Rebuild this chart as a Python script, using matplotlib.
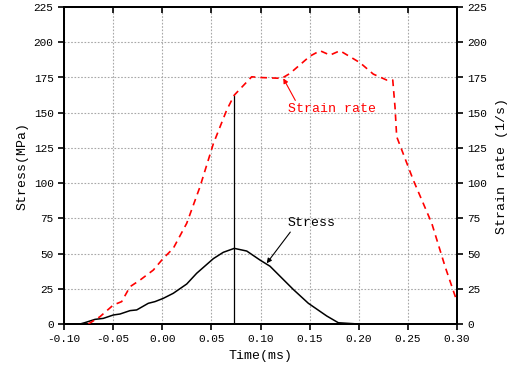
import matplotlib
matplotlib.use("Agg")
import matplotlib.pyplot as plt

plt.rcParams['font.family'] = ['Liberation Mono', 'DejaVu Sans Mono']

# Stress (MPa) vs time (ms)
stress_t = [-0.10, -0.0837, -0.0786, -0.0684, -0.060, -0.0498, -0.043, -0.0328, -0.026,
            -0.0142, -0.0074, 0.001, 0.0112, 0.0249, 0.035, 0.052, 0.0621, 0.0733,
            0.086, 0.0995, 0.1097, 0.1334, 0.1487, 0.1674, 0.1792, 0.20, 0.30]
stress_v = [0, 0, 1.0, 3.3, 4.0, 6.4, 7.1, 9.5, 10.0,
            14.7, 15.9, 18.2, 21.8, 28.4, 36.0, 46.4, 50.9, 53.7,
            51.8, 45.4, 41.0, 24.5, 14.7, 5.7, 0.9, 0, 0]

# Strain rate (1/s) vs time (ms)
rate_t = [-0.0752, -0.0634, -0.0498, -0.0413, -0.0328, -0.0226, -0.0091, 0.001, 0.0112,
          0.0249, 0.0384, 0.052, 0.0656, 0.0733, 0.091, 0.0995, 0.1216, 0.130,
          0.1504, 0.1606, 0.1707, 0.1809, 0.2013, 0.2148, 0.2284, 0.2346, 0.2369,
          0.2386, 0.2556, 0.2743, 0.2879, 0.300]
rate_v = [0, 5.2, 13.5, 15.9, 26.5, 31.2, 38.3, 46.6, 53.7,
          71.5, 97.4, 128.0, 151.9, 162.5, 175.5, 175.0, 174.4, 177.9,
          190.2, 194.0, 190.9, 194.0, 185.5, 177.4, 173.2, 173.2, 154.0,
          133.0, 102.0, 71.5, 40.7, 15.9]

# vertical marker line (time, top value)
marker_t = 0.0733
marker_top = 162.5

x_ticks = [-0.10, -0.05, 0.00, 0.05, 0.10, 0.15, 0.20, 0.25, 0.30]
y_ticks = [0, 25, 50, 75, 100, 125, 150, 175, 200, 225]

fig = plt.figure(figsize=(5.10, 3.72), dpi=100)
ax = fig.add_axes([0.1255, 0.129, 0.7706, 0.852])
ax2 = ax.twinx()

ax.set_xlim(-0.10, 0.30)
ax.set_ylim(0, 225)
ax2.set_ylim(0, 225)
ax.set_xticks(x_ticks)
ax.set_xticklabels([f"{v:.2f}" for v in x_ticks])
ax.set_yticks(y_ticks)
ax2.set_yticks(y_ticks)

ax.grid(True, color='#a8a8a8', linestyle=(0, (1.5, 1.5)), linewidth=0.8)
ax.set_axisbelow(True)

ax.plot(stress_t, stress_v, color='black', linewidth=1.1, zorder=3)
ax2.plot(rate_t, rate_v, color='#ff0000', linewidth=1.2, linestyle=(0, (4, 3)), zorder=3)
ax.vlines([marker_t], 0, marker_top, color='black', linewidth=0.9, zorder=3)

for a in (ax, ax2):
    for s in a.spines.values():
        s.set_linewidth(1.4)
ax.tick_params(axis='both', which='major', labelsize=8, direction='out', length=4, width=1.2,
               colors='black')
ax.tick_params(axis='x', top=True, labeltop=False)
ax2.tick_params(axis='y', labelsize=8, direction='out', length=4, width=1.2)
# top ticks inward
for t in ax.xaxis.get_major_ticks():
    t.tick2line.set_marker(matplotlib.lines.TICKDOWN)
    t.tick2line.set_markersize(4)

ax.set_ylabel("Stress(MPa)", fontsize=9.5, labelpad=4)
ax2.set_ylabel("Strain rate (1/s)", fontsize=9.5, labelpad=6)
ax.set_xlabel("Time(ms)", fontsize=9.5, labelpad=4)

ax2.annotate("Strain rate", xy=(0.1232, 174.4), xytext=(0.1728, 152.5),
             color='#ff0000', fontsize=9.5, ha='center', va='center',
             arrowprops=dict(arrowstyle='-|>', color='#ff0000', lw=0.8,
                             mutation_scale=7, shrinkA=0, shrinkB=0,
                             relpos=(0.1, 1.0)))
ax.annotate("Stress", xy=(0.1063, 43.1), xytext=(0.152, 71.5),
            color='black', fontsize=9.5, ha='center', va='center',
            arrowprops=dict(arrowstyle='-|>', color='black', lw=0.8,
                            mutation_scale=7, shrinkA=0, shrinkB=0,
                            relpos=(0.1, 0.0)))

fig.savefig("out.png", dpi=100)
